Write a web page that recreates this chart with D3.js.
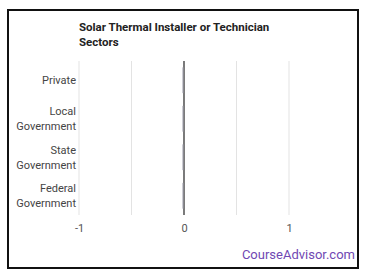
<!DOCTYPE html>
<html>
<head>
<meta charset="utf-8">
<script src="https://cdn.jsdelivr.net/npm/d3@7"></script>
<style>
  body { margin: 0; background: #fff; }
  svg { display: block; font-family: Roboto, 'Open Sans', sans-serif; }
</style>
</head>
<body>
<svg id="chart" width="370" height="278"></svg>
<script>
const titleLines = ['Solar Thermal Installer or Technician', 'Sectors']
const sectors = [['Private'], ['Local', 'Government'], ['State', 'Government'], ['Federal', 'Government']]
const values = [0, 0, 0, 0]
const xTicks = [-1, 0, 1]
const gridValues = [-1, -0.5, 0, 0.5, 1]
const credit = 'CourseAdvisor.com'

const svg = d3.select('#chart')
const width = +svg.attr('width')
const height = +svg.attr('height')
const margin = { left: 79, right: 81, top: 61, bottom: 63 }
const innerWidth = width - margin.left - margin.right
const innerHeight = height - margin.top - margin.bottom

// frame
svg.append('rect')
  .attr('x', 8).attr('y', 10)
  .attr('width', 350).attr('height', 258)
  .attr('fill', 'none')
  .attr('stroke', '#111')
  .attr('stroke-width', 2)

svg.selectAll('.title').data(titleLines).enter().append('text')
  .attr('class', 'title')
  .attr('x', margin.left)
  .attr('y', (d, i) => 31 + i * 14.5)
  .style('font-size', '11.5px')
  .style('font-weight', 'bold')
  .style('fill', '#222')
  .text(d => d)

const g = svg.append('g')
  .attr('transform', 'translate(' + margin.left + ',' + margin.top + ')')

const x = d3.scaleLinear().domain([-1, 1]).range([0, 210])
const y = d3.scaleBand()
  .domain(sectors.map((d, i) => i))
  .range([0, innerHeight])
  .paddingInner(0.33)
  .paddingOuter(0.165)

g.selectAll('.grid').data(gridValues).enter().append('line')
  .attr('class', 'grid')
  .attr('x1', d => x(d)).attr('x2', d => x(d))
  .attr('y1', 0).attr('y2', innerHeight)
  .attr('stroke', d => d === 0 ? '#333' : '#e3e3e3')
  .attr('stroke-width', d => d === 0 ? 1.3 : 1)

g.selectAll('.bar').data(values).enter().append('rect')
  .attr('class', 'bar')
  .attr('x', d => Math.min(x(d), x(0)) - 1.5)
  .attr('y', (d, i) => y(i))
  .attr('width', d => Math.max(1, Math.abs(x(d) - x(0))))
  .attr('height', y.bandwidth())
  .attr('fill', '#9a9aa8')

const xAxis = d3.axisBottom(x).tickValues(xTicks).tickSize(0).tickPadding(9)
  .tickFormat(d => String(d))
const xAxisG = g.append('g')
  .attr('transform', `translate(0, ${innerHeight})`)
  .call(xAxis)
xAxisG.select('.domain').remove()
xAxisG.selectAll('text')
  .style('font-size', '11px')
  .style('fill', '#555')
  .style('font-family', 'Roboto, sans-serif')

// category labels, one text element per line
const catLines = []
sectors.forEach((d, i) => {
  d.forEach((line, j) => catLines.push({ band: i, line: line, j: j, n: d.length }))
})
g.selectAll('.cat').data(catLines).enter().append('text')
  .attr('class', 'cat')
  .attr('text-anchor', 'end')
  .attr('x', -3)
  .attr('y', d => y(d.band) + y.bandwidth() / 2 - (d.n - 1) * 7.5 + 4 + d.j * 15)
  .style('font-size', '11px')
  .style('fill', '#444')
  .text(d => d.line)

svg.append('text')
  .attr('x', 355)
  .attr('y', 259)
  .attr('text-anchor', 'end')
  .style('font-size', '13px')
  .style('fill', '#7048b3')
  .text(credit)
</script>
</body>
</html>
